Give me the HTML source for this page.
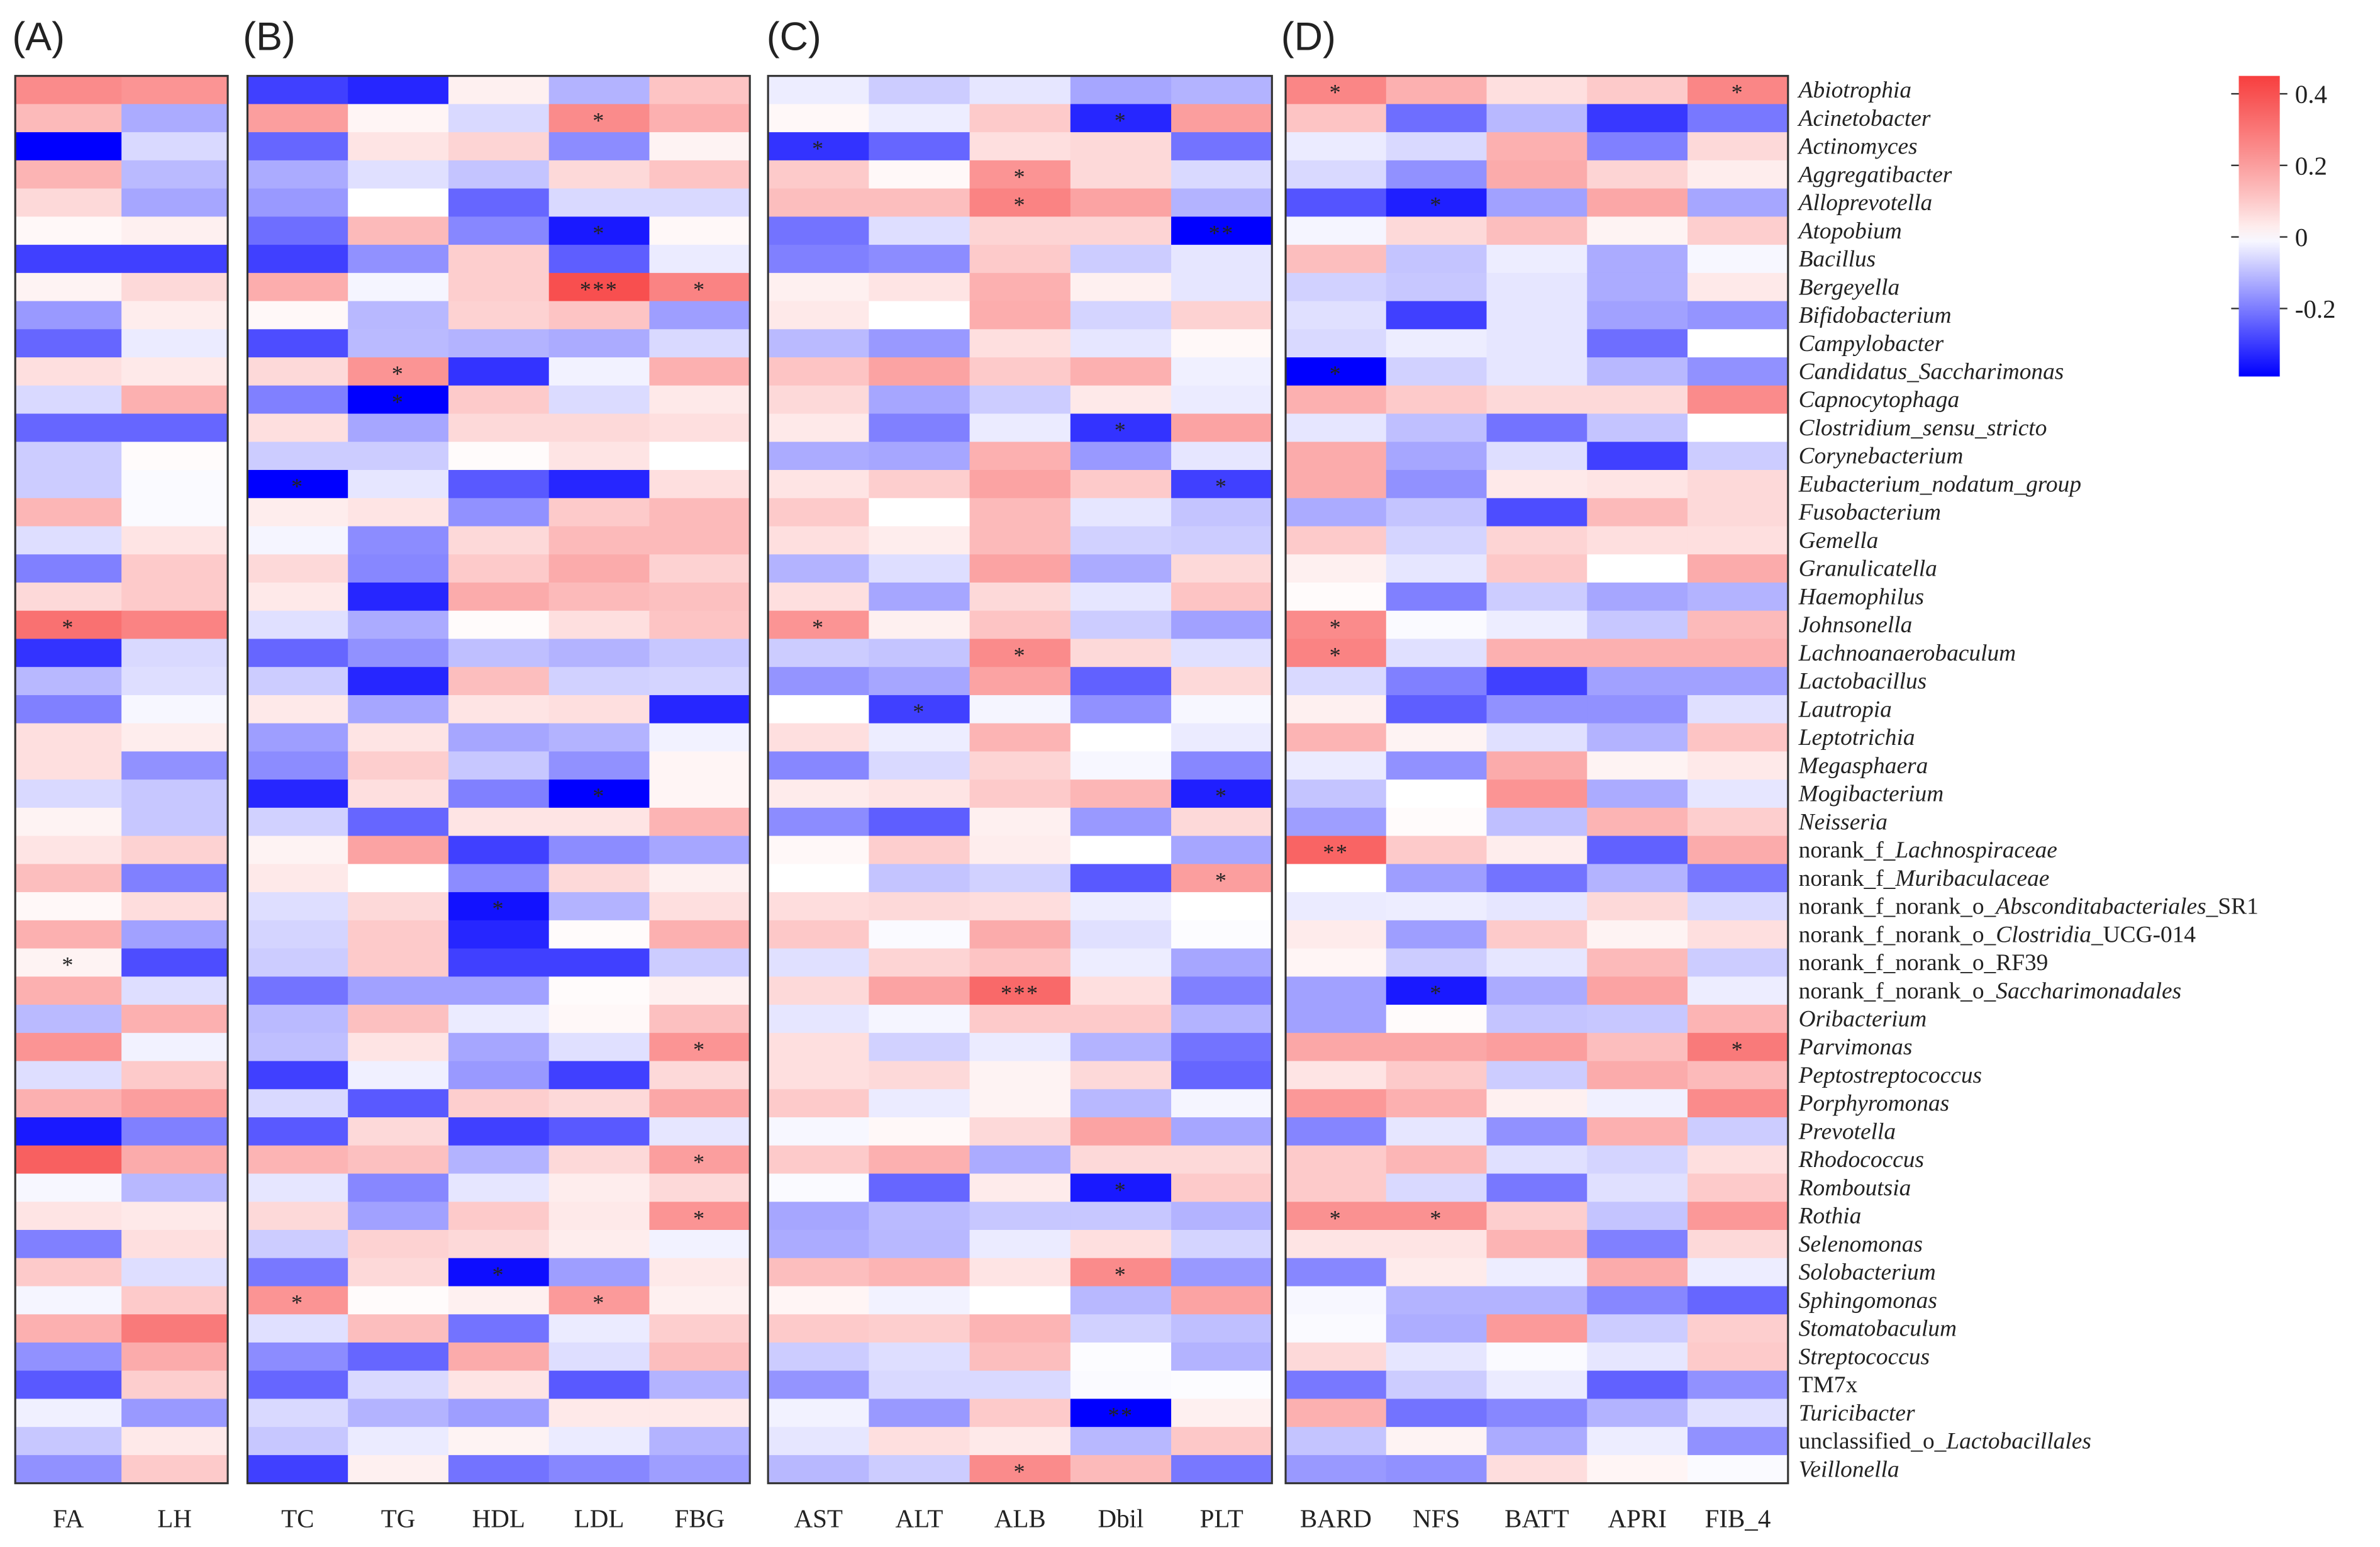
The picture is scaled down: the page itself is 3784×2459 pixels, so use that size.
<!DOCTYPE html>
<html><head><meta charset="utf-8">
<style>
html,body{margin:0;padding:0;background:#fff;}
svg{display:block;}
text{font-family:"Liberation Serif",serif;fill:#222;}
</style></head>
<body>
<svg id="chart" width="3784" height="2459" viewBox="0 0 1568 1019" xmlns="http://www.w3.org/2000/svg"></svg>
<script>
const rowLabels=[
["i","Abiotrophia"],["i","Acinetobacter"],["i","Actinomyces"],["i","Aggregatibacter"],["i","Alloprevotella"],["i","Atopobium"],["i","Bacillus"],["i","Bergeyella"],["i","Bifidobacterium"],["i","Campylobacter"],["i","Candidatus_Saccharimonas"],["i","Capnocytophaga"],["i","Clostridium_sensu_stricto"],["i","Corynebacterium"],["i","Eubacterium_nodatum_group"],["i","Fusobacterium"],["i","Gemella"],["i","Granulicatella"],["i","Haemophilus"],["i","Johnsonella"],["i","Lachnoanaerobaculum"],["i","Lactobacillus"],["i","Lautropia"],["i","Leptotrichia"],["i","Megasphaera"],["i","Mogibacterium"],["i","Neisseria"],
["m",[["n","norank_f_"],["i","Lachnospiraceae"]]],
["m",[["n","norank_f_"],["i","Muribaculaceae"]]],
["m",[["n","norank_f_norank_o_"],["i","Absconditabacteriales"],["n","_SR1"]]],
["m",[["n","norank_f_norank_o_"],["i","Clostridia"],["n","_UCG-014"]]],
["n","norank_f_norank_o_RF39"],
["m",[["n","norank_f_norank_o_"],["i","Saccharimonadales"]]],
["i","Oribacterium"],["i","Parvimonas"],["i","Peptostreptococcus"],["i","Porphyromonas"],["i","Prevotella"],["i","Rhodococcus"],["i","Romboutsia"],["i","Rothia"],["i","Selenomonas"],["i","Solobacterium"],["i","Sphingomonas"],["i","Stomatobaculum"],["i","Streptococcus"],["n","TM7x"],["i","Turicibacter"],
["m",[["n","unclassified_o_"],["i","Lactobacillales"]]],
["i","Veillonella"]];
const colsA=["FA","LH"];
const colsB=["TC","TG","HDL","LDL","FBG"];
const colsC=["AST","ALT","ALB","Dbil","PLT"];
const colsD=["BARD","NFS","BATT","APRI","FIB_4"];
const valuesA=[[0.55,0.5],[0.3,-0.33],[-1,-0.15],[0.33,-0.27],[0.15,-0.35],[0.02,0.05],[-0.75,-0.75],[0.04,0.15],[-0.4,0.06],[-0.6,-0.08],[0.12,0.08],[-0.15,0.35],[-0.6,-0.6],[-0.2,0.01],[-0.2,-0.02],[0.32,-0.02],[-0.13,0.1],[-0.5,0.22],[0.15,0.22],[0.7,0.6],[-0.8,-0.15],[-0.28,-0.13],[-0.5,-0.03],[0.12,0.06],[0.12,-0.43],
[-0.15,-0.22],[0.04,-0.22],[0.1,0.18],[0.28,-0.5],[0.02,0.13],[0.35,-0.37],[0.04,-0.7],[0.35,-0.13],[-0.27,0.35],[0.5,-0.05],[-0.13,0.22],[0.35,0.45],[-0.9,-0.5],[0.8,0.38],[-0.03,-0.28],[0.1,0.08],[-0.5,0.12],[0.22,-0.13],[-0.04,0.22],[0.35,0.65],[-0.43,0.38],[-0.65,0.2],[-0.06,-0.4],[-0.22,0.08],[-0.43,0.22]];
const valuesB=[[-0.75,-0.85,0.05,-0.3,0.25],[0.45,0.03,-0.15,0.55,0.35],[-0.6,0.1,0.17,-0.45,0.04],[-0.33,-0.12,-0.23,0.15,0.25],[-0.4,0,-0.6,-0.15,-0.15],[-0.57,0.3,-0.47,-0.9,0.02],[-0.75,-0.43,0.2,-0.63,-0.08],[0.37,-0.04,0.2,0.9,0.6],[0.02,-0.28,0.18,0.25,-0.38],[-0.7,-0.27,-0.3,-0.33,-0.15],[0.15,0.5,-0.8,-0.05,0.35],[-0.5,-1,0.22,-0.14,0.08],[0.12,-0.35,0.15,0.15,0.12],[-0.2,-0.2,0.01,0.1,0],[-1,-0.1,-0.65,-0.85,0.12],[0.06,0.1,-0.43,0.22,0.3],[-0.04,-0.45,0.15,0.3,0.3],[0.15,-0.47,0.22,0.38,0.18],[0.08,-0.85,0.38,0.3,0.27],[-0.12,-0.33,0.01,0.12,0.25],[-0.6,-0.43,-0.25,-0.3,-0.22],[-0.2,-0.85,0.28,-0.18,-0.17],[0.08,-0.35,0.1,0.12,-0.85],[-0.38,0.1,-0.35,-0.3,-0.05],[-0.45,0.2,-0.22,-0.43,0.03],
[-0.85,0.12,-0.5,-1,0.03],[-0.18,-0.6,0.1,0.1,0.33],[0.04,0.42,-0.75,-0.45,-0.35],[0.08,0,-0.45,0.15,0.05],[-0.13,0.15,-0.93,-0.3,0.12],[-0.17,0.22,-0.85,0.01,0.35],[-0.2,0.22,-0.75,-0.75,-0.2],[-0.55,-0.37,-0.37,0.01,0.05],[-0.27,0.27,-0.08,0.02,0.27],[-0.25,0.1,-0.35,-0.12,0.5],[-0.75,-0.06,-0.4,-0.75,0.15],[-0.15,-0.65,0.2,0.15,0.4],[-0.65,0.15,-0.75,-0.65,-0.1],[0.33,0.27,-0.3,0.15,0.45],[-0.1,-0.47,-0.1,0.06,0.15],[0.15,-0.37,0.22,0.08,0.5],[-0.2,0.18,0.15,0.06,-0.05],[-0.53,0.15,-0.95,-0.38,0.08],[0.5,0.01,0.05,0.47,0.05],[-0.12,0.28,-0.55,-0.08,0.2],[-0.45,-0.6,0.38,-0.13,0.28],[-0.6,-0.15,0.1,-0.65,-0.3],[-0.15,-0.3,-0.38,0.08,0.08],[-0.22,-0.08,0.04,-0.08,-0.3],[-0.75,0.05,-0.55,-0.47,-0.38]];
const valuesC=[[-0.07,-0.2,-0.1,-0.35,-0.3],[0.02,-0.07,0.22,-0.85,0.45],[-0.8,-0.6,0.12,0.15,-0.55],[0.22,0.02,0.5,0.15,-0.15],[0.28,0.28,0.6,0.42,-0.3],[-0.55,-0.13,0.17,0.17,-1],[-0.5,-0.45,0.22,-0.2,-0.1],[0.05,0.1,0.35,0.05,-0.1],[0.08,0,0.37,-0.17,0.18],[-0.27,-0.4,0.12,-0.1,0.02],[0.25,0.42,0.22,0.35,-0.06],[0.15,-0.35,-0.2,0.08,-0.08],[0.08,-0.5,-0.08,-0.8,0.42],[-0.33,-0.35,0.35,-0.4,-0.1],[0.1,0.2,0.42,0.22,-0.75],[0.22,0,0.3,-0.1,-0.23],[0.12,0.06,0.3,-0.18,-0.2],[-0.3,-0.13,0.42,-0.33,0.15],[0.12,-0.35,0.15,-0.1,0.25],[0.5,0.05,0.25,-0.2,-0.37],[-0.2,-0.23,0.55,0.15,-0.12],[-0.42,-0.35,0.42,-0.62,0.15],[0,-0.75,-0.04,-0.43,-0.03],[0.12,-0.07,0.33,0,-0.08],[-0.47,-0.15,0.17,-0.03,-0.47],
[0.07,0.1,0.22,0.32,-0.88],[-0.45,-0.63,0.05,-0.4,0.15],[0.02,0.2,0.06,0,-0.35],[0,-0.23,-0.18,-0.65,0.45],[0.13,0.15,0.13,-0.07,0],[0.23,-0.02,0.38,-0.12,-0.01],[-0.12,0.17,0.25,-0.07,-0.35],[0.15,0.42,0.75,0.12,-0.5],[-0.1,-0.04,0.22,0.22,-0.3],[0.12,-0.18,-0.08,-0.3,-0.55],[0.12,0.15,0.04,0.15,-0.6],[0.22,-0.08,0.04,-0.28,-0.04],[-0.03,0.02,0.15,0.42,-0.35],[0.22,0.35,-0.33,0.15,0.15],[-0.02,-0.6,0.07,-0.9,0.22],[-0.35,-0.27,-0.22,-0.22,-0.3],[-0.33,-0.28,-0.08,0.12,-0.17],[0.28,0.33,0.1,0.55,-0.4],[0.03,-0.05,0,-0.28,0.42],[0.22,0.2,0.33,-0.18,-0.25],[-0.2,-0.13,0.28,-0.01,-0.3],[-0.42,-0.15,-0.15,-0.02,-0.01],[-0.05,-0.4,0.22,-1,0.05],[-0.1,0.12,0.08,-0.28,0.23],[-0.28,-0.2,0.55,0.3,-0.53]];
const valuesD=[[0.58,0.35,0.12,0.22,0.58],[0.25,-0.57,-0.28,-0.78,-0.53],[-0.08,-0.15,0.35,-0.5,0.15],[-0.15,-0.43,0.38,0.17,0.06],[-0.67,-0.88,-0.37,0.4,-0.35],[-0.04,0.15,0.28,0.04,0.2],[0.28,-0.23,-0.07,-0.33,-0.03],[-0.18,-0.22,-0.1,-0.33,0.08],[-0.12,-0.75,-0.1,-0.37,-0.42],[-0.15,-0.07,-0.1,-0.57,0],[-1,-0.18,-0.1,-0.28,-0.43],[0.35,0.22,0.15,0.15,0.55],[-0.1,-0.25,-0.55,-0.23,0],[0.38,-0.35,-0.13,-0.75,-0.2],[0.38,-0.43,0.08,0.1,0.15],[-0.33,-0.23,-0.7,0.3,0.15],[0.22,-0.17,0.17,0.12,0.12],[0.05,-0.1,0.23,0,0.38],[0.01,-0.5,-0.2,-0.35,-0.3],[0.55,-0.02,-0.07,-0.22,0.3],[0.6,-0.12,0.35,0.35,0.35],[-0.15,-0.5,-0.75,-0.37,-0.37],[0.05,-0.63,-0.43,-0.43,-0.12],[0.33,0.04,-0.12,-0.3,0.25],[-0.08,-0.43,0.38,0.04,0.08],
[-0.23,0,0.5,-0.33,-0.1],[-0.38,0.01,-0.25,0.33,0.2],[0.78,0.22,0.06,-0.62,0.38],[0,-0.38,-0.55,-0.3,-0.53],[-0.08,-0.07,-0.1,0.15,-0.15],[0.07,-0.38,0.22,0.04,0.12],[0.03,-0.2,-0.1,0.3,-0.2],[-0.37,-0.9,-0.33,0.42,-0.07],[-0.37,0.01,-0.23,-0.22,0.33],[0.4,0.4,0.45,0.28,0.65],[0.1,0.22,-0.2,0.38,0.3],[0.48,0.35,0.05,-0.06,0.55],[-0.48,-0.1,-0.43,0.35,-0.2],[0.22,0.32,-0.12,-0.17,0.12],[0.22,-0.15,-0.53,-0.12,0.22],[0.52,0.52,0.2,-0.23,0.48],[0.1,0.1,0.33,-0.5,0.15],[-0.47,0.07,-0.07,0.38,-0.07],[-0.03,-0.3,-0.3,-0.47,-0.6],[-0.02,-0.32,0.47,-0.2,0.2],[0.15,-0.1,-0.02,-0.1,0.22],[-0.53,-0.2,-0.08,-0.62,-0.43],[0.35,-0.55,-0.47,-0.3,-0.12],[-0.23,0.04,-0.33,-0.07,-0.43],[-0.4,-0.43,0.13,0.03,-0.02]];
const sigA=[[20,0,"*"],[32,0,"*"]];
const sigB=[[2,3,"*"],[6,3,"*"],[8,3,"***"],[8,4,"*"],[11,1,"*"],[12,1,"*"],[15,0,"*"],[26,3,"*"],[30,2,"*"],[35,4,"*"],[39,4,"*"],[41,4,"*"],[43,2,"*"],[44,0,"*"],[44,3,"*"]];
const sigC=[[2,3,"*"],[3,0,"*"],[4,2,"*"],[5,2,"*"],[6,4,"**"],[13,3,"*"],[15,4,"*"],[20,0,"*"],[21,2,"*"],[23,1,"*"],[26,4,"*"],[29,4,"*"],[33,2,"***"],[40,3,"*"],[43,3,"*"],[48,3,"**"],[50,2,"*"]];
const sigD=[[1,0,"*"],[1,4,"*"],[5,1,"*"],[11,0,"*"],[20,0,"*"],[21,0,"*"],[28,0,"**"],[33,1,"*"],[35,4,"*"],[41,0,"*"],[41,1,"*"]];
const legendTicks=[0.4,0.2,0,-0.2];
const legendTickLabels=["0.4","0.2","0","-0.2"];

const NS="http://www.w3.org/2000/svg";
const svg=document.getElementById('chart');
const TOP=50,BOT=977,NR=rowLabels.length,RH=(BOT-TOP)/NR;
function yRow(i){return TOP+i*RH;}
function color(t){t=Math.max(-1,Math.min(1,t));let r,g,b;
 if(t>=0){const u=Math.pow(t,0.85);r=255-8*u;g=b=255-192*u;}else{r=g=255*(1+t);b=255;}
 return `rgb(${Math.round(r)},${Math.round(g)},${Math.round(b)})`;}
function mk(tag,attrs,parent){const e=document.createElementNS(NS,tag);for(const k in attrs)e.setAttribute(k,attrs[k]);(parent||svg).appendChild(e);return e;}

const panels=[
 {id:"a",letter:"(A)",lx:8,x0:10,x1:150,cols:colsA,vals:valuesA,sig:sigA},
 {id:"b",letter:"(B)",lx:160,x0:163,x1:494,cols:colsB,vals:valuesB,sig:sigB},
 {id:"c",letter:"(C)",lx:505,x0:506,x1:838,cols:colsC,vals:valuesC,sig:sigC},
 {id:"d",letter:"(D)",lx:844,x0:847,x1:1178,cols:colsD,vals:valuesD,sig:sigD}];
panels.forEach(p=>{
 const g=mk('g',{});
 
 
 const cw=(p.x1-p.x0)/p.cols.length;
 const xCol=j=>p.x0+j*cw;
 p.vals.forEach((row,i)=>row.forEach((v,j)=>{
  const r=mk('rect',{x:xCol(j),y:yRow(i),width:cw+0.4,height:RH+0.4,fill:color(v)},g);
  
  
 }));
 p.sig.forEach(s=>{
  const t=mk('text',{x:xCol(s[1])+cw/2,y:yRow(s[0]-1)+RH/2+6.5,'text-anchor':'middle','font-size':15,'letter-spacing':1,fill:'#222'},g);
  t.textContent=s[2];
  
  
 });
 const b=mk('rect',{x:p.x0,y:TOP,width:p.x1-p.x0,height:BOT-TOP,fill:'none',stroke:'#333','stroke-width':1.3},g);
 
 
 p.cols.forEach((c,j)=>{
  const t=mk('text',{x:xCol(j)+cw/2,y:1006,'text-anchor':'middle','font-size':17},g);
  t.textContent=c;
  
  
 });
 const L=mk('text',{x:p.lx,y:33,'font-size':26,style:'font-family:"Liberation Sans",sans-serif'},g);
 L.textContent=p.letter;
 
 
});
rowLabels.forEach((rl,i)=>{
 const t=mk('text',{x:1185,y:yRow(i)+RH/2+5,'font-size':15.5});
 
 
 const parts=rl[0]==="m"?rl[1]:[[rl[0],rl[1]]];
 parts.forEach(pt=>{const s=mk('tspan',{},t);if(pt[0]==="i")s.setAttribute('font-style','italic');s.textContent=pt[1];});
});
const LMAX=0.45,LMIN=-0.39,LT=50,LB=248,LX=1475,LW=27;
const yL=v=>LT+(LMAX-v)/(LMAX-LMIN)*(LB-LT);
const defs=mk('defs',{});
const grad=mk('linearGradient',{id:'lg',x1:0,y1:0,x2:0,y2:1},defs);
for(let k=0;k<=20;k++){const v=LMAX-(LMAX-LMIN)*k/20;mk('stop',{offset:(k/20),'stop-color':color(v>0?v/LMAX:v/(-LMIN))},grad);}
const lg=mk('g',{});


const bar=mk('rect',{x:LX,y:LT,width:LW,height:LB-LT,fill:'url(#lg)'},lg);


legendTicks.forEach((v,k)=>{
 const y=yL(v);
 mk('line',{x1:LX-5,x2:LX,y1:y,y2:y,stroke:'#333','stroke-width':1},lg);
 mk('line',{x1:LX+LW,x2:LX+LW+5,y1:y,y2:y,stroke:'#333','stroke-width':1},lg);
 const t=mk('text',{x:1512,y:y+6,'font-size':17},lg);
 t.textContent=legendTickLabels[k];
 
 
});
</script>
</body></html>
